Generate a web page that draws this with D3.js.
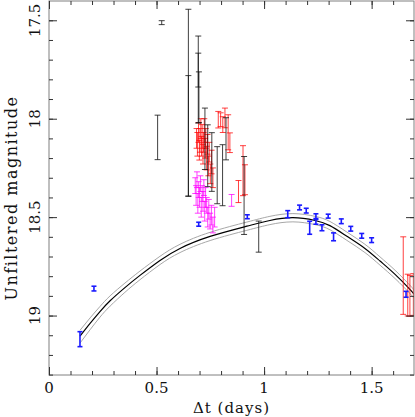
<!DOCTYPE html>
<html>
<head>
<meta charset="utf-8">
<script src="https://cdn.jsdelivr.net/npm/d3@7"></script>
<style>
  body { margin: 0; background: #fff; }
  text { font-family: 'DejaVu Serif', serif; fill: #111; }
</style>
</head>
<body>
<div id="chart"></div>
<script>
// tick labels
const xTicks = [0, 0.5, 1, 1.5]
const yTicks = [17.5, 18, 18.5, 19]

// model light curve (centre line and the two bounds)
const modelT = [0.144, 0.191, 0.237, 0.284, 0.353, 0.423, 0.516, 0.609, 0.749, 0.92, 1.027, 1.134, 1.237, 1.306, 1.385, 1.469, 1.539, 1.609, 1.678, 1.697]
const modelMag = [19.105, 19.04, 18.98, 18.925, 18.858, 18.796, 18.72, 18.659, 18.598, 18.546, 18.517, 18.503, 18.517, 18.543, 18.597, 18.659, 18.723, 18.791, 18.867, 18.892]
const modelUpper = [19.075, 19.012, 18.954, 18.9, 18.835, 18.774, 18.699, 18.638, 18.577, 18.525, 18.496, 18.482, 18.496, 18.522, 18.576, 18.638, 18.702, 18.77, 18.846, 18.871]
const modelLower = [19.14, 19.072, 19.008, 18.952, 18.882, 18.818, 18.741, 18.68, 18.619, 18.567, 18.538, 18.524, 18.538, 18.564, 18.618, 18.68, 18.744, 18.812, 18.888, 18.913]

// black points
const blackT = [0.505, 0.524, 0.648, 0.648, 0.694, 0.694, 0.697, 0.725, 0.738, 0.757, 0.782, 0.807, 0.823, 0.907, 0.975]
const blackMag = [18.095, 17.512, 17.919, 18.087, 17.801, 17.753, 17.891, 18.102, 18.188, 18.22, 18.287, 18.287, 18.102, 18.39, 18.599]
const blackErr = [0.113, 0.01, 0.475, 0.306, 0.221, 0.086, 0.129, 0.156, 0.157, 0.149, 0.145, 0.155, 0.107, 0.198, 0.079]

// red points
const redT = [0.686, 0.69, 0.695, 0.699, 0.702, 0.706, 0.709, 0.712, 0.716, 0.719, 0.722, 0.726, 0.729, 0.733, 0.737, 0.741, 0.745, 0.75, 0.756, 0.762,
  0.787, 0.798, 0.808, 0.818, 0.833, 0.841, 0.881, 0.902, 0.911, 1.647, 1.668, 1.678, 1.694]
const redMag = [18.1, 18.13, 18.07, 18.16, 18.11, 18.05, 18.14, 18.09, 18.18, 18.12, 18.06, 18.15, 18.1, 18.2, 18.13, 18.24, 18.17, 18.28, 18.22, 18.3,
  18.005, 18.005, 18.03, 17.996, 18.069, 18.122, 18.37, 18.264, 18.31, 18.797, 18.896, 18.9, 18.893]
const redErr = [0.05, 0.06, 0.05, 0.05, 0.06, 0.05, 0.05, 0.06, 0.05, 0.05, 0.06, 0.05, 0.05, 0.06, 0.05, 0.05, 0.05, 0.05, 0.06, 0.05,
  0.042, 0.035, 0.04, 0.05, 0.089, 0.05, 0.056, 0.127, 0.076, 0.197, 0.106, 0.104, 0.106]

// magenta points
const magentaT = [0.68, 0.684, 0.688, 0.692, 0.696, 0.7, 0.704, 0.708, 0.712, 0.716, 0.72, 0.724, 0.728, 0.733, 0.738, 0.743, 0.749, 0.755, 0.762, 0.77, 0.849]
const magentaMag = [18.34, 18.39, 18.31, 18.43, 18.36, 18.4, 18.33, 18.45, 18.38, 18.42, 18.35, 18.47, 18.4, 18.44, 18.5, 18.46, 18.52, 18.49, 18.54, 18.5, 18.415]
const magentaErr = [0.04, 0.05, 0.04, 0.05, 0.04, 0.05, 0.04, 0.05, 0.04, 0.05, 0.04, 0.05, 0.05, 0.04, 0.05, 0.05, 0.04, 0.05, 0.04, 0.05, 0.03]

// blue points
const blueT = [0.144, 0.209, 0.696, 0.922, 1.11, 1.165, 1.196, 1.241, 1.241, 1.212, 1.269, 1.298, 1.323, 1.359, 1.403, 1.454, 1.5, 1.66]
const blueMag = [19.12, 18.863, 18.536, 18.498, 18.485, 18.451, 18.467, 18.495, 18.524, 18.554, 18.554, 18.495, 18.6, 18.521, 18.559, 18.595, 18.617, 18.892]
const blueErr = [0.038, 0.012, 0.01, 0.01, 0.018, 0.012, 0.012, 0.012, 0.012, 0.033, 0.015, 0.01, 0.02, 0.012, 0.012, 0.012, 0.012, 0.015]

const draw = () => {
  const dimensions = {
    width: 415,
    height: 417,
    left: 49,
    right: 414,
    top: 1,
    bottom: 375,
  }

  const svg = d3
    .select('#chart')
    .append('svg')
    .attr('width', dimensions.width)
    .attr('height', dimensions.height)

  const xScale = d3
    .scaleLinear()
    .domain([0, 1.697])
    .range([dimensions.left, dimensions.right])

  // magnitudes grow downward
  const yScale = d3
    .scaleLinear()
    .domain([17.402, 19.302])
    .range([dimensions.top, dimensions.bottom])

  svg
    .append('defs')
    .append('clipPath')
    .attr('id', 'plot-clip')
    .append('rect')
    .attr('x', dimensions.left)
    .attr('y', dimensions.top)
    .attr('width', dimensions.right - dimensions.left)
    .attr('height', dimensions.bottom - dimensions.top)

  const ctr = svg.append('g').attr('clip-path', 'url(#plot-clip)')

  // model curves
  const modelLine = (mags) =>
    d3
      .line()
      .x((d, i) => xScale(modelT[i]))
      .y((d) => yScale(d))
      .curve(d3.curveNatural)(mags)

  ctr.append('path').attr('d', modelLine(modelUpper))
    .attr('fill', 'none').attr('stroke', '#a8a8a8').attr('stroke-width', 1)
  ctr.append('path').attr('d', modelLine(modelLower))
    .attr('fill', 'none').attr('stroke', '#a8a8a8').attr('stroke-width', 1)
  ctr.append('path').attr('d', modelLine(modelMag))
    .attr('fill', 'none').attr('stroke', '#000').attr('stroke-width', 1.2)

  // error bars: vertical line plus two caps
  const errorBars = (ts, mags, errs, color, cap, width, opacity) => {
    const data = ts.map((t, i) => ({ t, mag: mags[i], err: errs[i] }))
    const g = ctr.append('g')
      .attr('stroke', color)
      .attr('stroke-width', width)
      .attr('stroke-opacity', opacity)
      .attr('fill', 'none')
    const bars = g.selectAll('g').data(data).join('g')
    bars.append('line')
      .attr('x1', (d) => xScale(d.t)).attr('x2', (d) => xScale(d.t))
      .attr('y1', (d) => yScale(d.mag - d.err)).attr('y2', (d) => yScale(d.mag + d.err))
    bars.append('line')
      .attr('x1', (d) => xScale(d.t) - cap).attr('x2', (d) => xScale(d.t) + cap)
      .attr('y1', (d) => yScale(d.mag - d.err)).attr('y2', (d) => yScale(d.mag - d.err))
    bars.append('line')
      .attr('x1', (d) => xScale(d.t) - cap).attr('x2', (d) => xScale(d.t) + cap)
      .attr('y1', (d) => yScale(d.mag + d.err)).attr('y2', (d) => yScale(d.mag + d.err))
  }

  errorBars(redT, redMag, redErr, '#ff0000', 3, 1, 0.75)
  errorBars(magentaT, magentaMag, magentaErr, '#ff00ff', 3, 1, 0.75)
  errorBars(blackT, blackMag, blackErr, '#111', 3, 1, 0.8)
  errorBars(blueT, blueMag, blueErr, '#1a1aff', 2.5, 1.6, 1)

  // frame
  svg.append('rect')
    .attr('x', dimensions.left).attr('y', dimensions.top)
    .attr('width', dimensions.right - dimensions.left)
    .attr('height', dimensions.bottom - dimensions.top)
    .attr('fill', 'none').attr('stroke', '#808080').attr('stroke-width', 1)

  // inward ticks on all four sides
  const tickGroup = (axis, tx, ty) => {
    const g = svg.append('g').attr('transform', `translate(${tx}, ${ty})`).call(axis)
    g.select('.domain').remove()
    g.selectAll('text').remove()
    g.selectAll('line').attr('stroke', '#333')
    return g
  }
  const xMinor = xScale.ticks(17)
  const yMinor = yScale.ticks(19)

  tickGroup(d3.axisBottom(xScale).tickValues(xMinor).tickSize(-4), 0, dimensions.bottom)
  tickGroup(d3.axisBottom(xScale).tickValues(xTicks).tickSize(-8), 0, dimensions.bottom)
  tickGroup(d3.axisTop(xScale).tickValues(xMinor).tickSize(-4), 0, dimensions.top)
  tickGroup(d3.axisTop(xScale).tickValues(xTicks).tickSize(-8), 0, dimensions.top)
  tickGroup(d3.axisLeft(yScale).tickValues(yMinor).tickSize(-4), dimensions.left, 0)
  tickGroup(d3.axisLeft(yScale).tickValues(yTicks).tickSize(-8), dimensions.left, 0)
  tickGroup(d3.axisRight(yScale).tickValues(yMinor).tickSize(-4), dimensions.right, 0)
  tickGroup(d3.axisRight(yScale).tickValues(yTicks).tickSize(-8), dimensions.right, 0)

  // tick labels
  svg.append('g')
    .selectAll('text')
    .data(xTicks)
    .join('text')
    .attr('x', (d) => xScale(d))
    .attr('y', 393)
    .attr('text-anchor', 'middle')
    .attr('font-size', 15)
    .text((d) => d)

  svg.append('g')
    .selectAll('text')
    .data(yTicks)
    .join('text')
    .attr('transform', (d) => `translate(40, ${yScale(d)}) rotate(-90)`)
    .attr('text-anchor', 'middle')
    .attr('font-size', 15)
    .text((d) => d)

  // axis labels
  svg.append('text')
    .attr('x', (dimensions.left + dimensions.right) / 2)
    .attr('y', 413)
    .attr('text-anchor', 'middle')
    .attr('font-size', 15)
    .attr('letter-spacing', 1)
    .text('Δt (days)')

  svg.append('text')
    .attr('transform', `translate(17, 198) rotate(-90)`)
    .attr('text-anchor', 'middle')
    .attr('font-size', 16)
    .attr('letter-spacing', 1.5)
    .text('Unfiltered magnitude')
}

draw()
</script>
</body>
</html>
